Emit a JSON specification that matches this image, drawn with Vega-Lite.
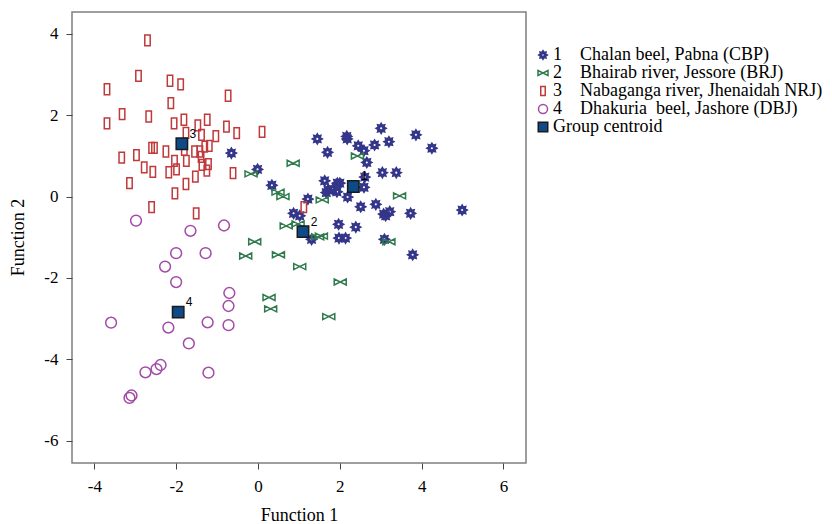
{
  "$schema": "https://vega.github.io/schema/vega-lite/v6.json",
  "autosize": {"type": "none"},
  "padding": {"left": 72, "top": 12, "right": 306, "bottom": 61},
  "width": 454,
  "height": 451,
  "config": {
    "view": {"stroke": "#7f7f7f", "strokeWidth": 1.5},
    "font": "Liberation Serif",
    "axis": {
      "grid": false, "domain": false, "tickColor": "#444", "tickSize": 6, "tickWidth": 1,
      "labelFont": "Liberation Serif", "labelFontSize": 17, "labelColor": "#000",
      "labelExpr": "replace(datum.label, '\u2212', '-')",
      "titleFont": "Liberation Serif", "titleFontSize": 18, "titleFontWeight": "normal", "titleColor": "#000"
    },
    "legend": {"labelFont": "Liberation Serif", "labelFontSize": 18, "labelColor": "#000", "symbolStrokeWidth": 1.5, "labelLimit": 0}
  },
  "data": {"values": [
    {"x":-0.65,"y":1.07,"g":"1"},{"x":-0.01,"y":0.67,"g":"1"},{"x":0.34,"y":0.28,"g":"1"},{"x":1.45,"y":1.42,"g":"1"},
    {"x":2.17,"y":1.48,"g":"1"},{"x":2.18,"y":1.42,"g":"1"},{"x":3.01,"y":1.68,"g":"1"},{"x":3.86,"y":1.52,"g":"1"},
    {"x":4.25,"y":1.19,"g":"1"},{"x":1.70,"y":1.09,"g":"1"},{"x":2.45,"y":1.25,"g":"1"},{"x":2.59,"y":1.13,"g":"1"},
    {"x":2.85,"y":1.27,"g":"1"},{"x":3.20,"y":1.35,"g":"1"},{"x":2.66,"y":0.84,"g":"1"},{"x":3.04,"y":0.59,"g":"1"},
    {"x":3.38,"y":0.59,"g":"1"},{"x":2.61,"y":0.48,"g":"1"},{"x":2.59,"y":0.23,"g":"1"},{"x":1.63,"y":0.39,"g":"1"},
    {"x":1.94,"y":0.33,"g":"1"},{"x":2.00,"y":0.33,"g":"1"},{"x":1.71,"y":0.16,"g":"1"},{"x":1.83,"y":0.18,"g":"1"},
    {"x":1.93,"y":0.12,"g":"1"},{"x":1.67,"y":0.10,"g":"1"},{"x":2.19,"y":-0.01,"g":"1"},{"x":1.22,"y":-0.06,"g":"1"},
    {"x":0.87,"y":-0.41,"g":"1"},{"x":1.02,"y":-0.47,"g":"1"},{"x":2.51,"y":-0.25,"g":"1"},{"x":2.88,"y":-0.19,"g":"1"},
    {"x":3.07,"y":-0.43,"g":"1"},{"x":3.12,"y":-0.47,"g":"1"},{"x":3.22,"y":-0.37,"g":"1"},{"x":3.73,"y":-0.41,"g":"1"},
    {"x":4.99,"y":-0.33,"g":"1"},{"x":1.97,"y":-0.68,"g":"1"},{"x":2.39,"y":-0.75,"g":"1"},{"x":1.31,"y":-1.05,"g":"1"},
    {"x":1.98,"y":-1.02,"g":"1"},{"x":2.14,"y":-1.02,"g":"1"},{"x":3.09,"y":-1.05,"g":"1"},{"x":3.78,"y":-1.43,"g":"1"},
    {"x":0.86,"y":0.82,"g":"2"},{"x":2.43,"y":1.00,"g":"2"},{"x":-0.17,"y":0.56,"g":"2"},{"x":0.49,"y":0.11,"g":"2"},
    {"x":0.61,"y":0.00,"g":"2"},{"x":1.57,"y":-0.08,"g":"2"},{"x":3.46,"y":0.02,"g":"2"},{"x":0.69,"y":-0.72,"g":"2"},
    {"x":0.98,"y":-0.67,"g":"2"},{"x":1.55,"y":-0.97,"g":"2"},{"x":1.46,"y":-0.99,"g":"2"},{"x":3.20,"y":-1.11,"g":"2"},
    {"x":-0.08,"y":-1.11,"g":"2"},{"x":-0.30,"y":-1.46,"g":"2"},{"x":0.50,"y":-1.43,"g":"2"},{"x":1.02,"y":-1.72,"g":"2"},
    {"x":2.01,"y":-2.10,"g":"2"},{"x":0.27,"y":-2.48,"g":"2"},{"x":0.31,"y":-2.76,"g":"2"},{"x":1.73,"y":-2.95,"g":"2"},
    {"x":-2.70,"y":3.84,"g":"3"},{"x":-2.92,"y":2.97,"g":"3"},{"x":-2.15,"y":2.85,"g":"3"},{"x":-1.89,"y":2.76,"g":"3"},
    {"x":-3.69,"y":2.64,"g":"3"},{"x":-0.73,"y":2.48,"g":"3"},{"x":-2.13,"y":2.30,"g":"3"},{"x":-3.32,"y":2.03,"g":"3"},
    {"x":-2.67,"y":1.97,"g":"3"},{"x":-3.69,"y":1.80,"g":"3"},{"x":-2.05,"y":1.80,"g":"3"},{"x":-1.81,"y":1.89,"g":"3"},
    {"x":-1.47,"y":1.75,"g":"3"},{"x":-1.24,"y":1.89,"g":"3"},{"x":-0.77,"y":1.72,"g":"3"},{"x":-0.52,"y":1.56,"g":"3"},
    {"x":0.10,"y":1.59,"g":"3"},{"x":-1.76,"y":1.57,"g":"3"},{"x":-1.38,"y":1.52,"g":"3"},{"x":-1.03,"y":1.49,"g":"3"},
    {"x":-2.60,"y":1.20,"g":"3"},{"x":-2.53,"y":1.20,"g":"3"},{"x":-2.25,"y":1.11,"g":"3"},{"x":-1.80,"y":1.15,"g":"3"},
    {"x":-1.55,"y":1.11,"g":"3"},{"x":-1.42,"y":1.11,"g":"3"},{"x":-1.30,"y":1.23,"g":"3"},{"x":-1.19,"y":1.25,"g":"3"},
    {"x":-1.39,"y":0.98,"g":"3"},{"x":-3.33,"y":0.96,"g":"3"},{"x":-2.97,"y":1.02,"g":"3"},{"x":-2.04,"y":0.88,"g":"3"},
    {"x":-1.75,"y":0.88,"g":"3"},{"x":-2.78,"y":0.72,"g":"3"},{"x":-2.57,"y":0.61,"g":"3"},{"x":-2.18,"y":0.60,"g":"3"},
    {"x":-1.99,"y":0.67,"g":"3"},{"x":-1.37,"y":0.78,"g":"3"},{"x":-1.21,"y":0.80,"g":"3"},{"x":-1.25,"y":0.64,"g":"3"},
    {"x":-0.61,"y":0.58,"g":"3"},{"x":-1.53,"y":0.49,"g":"3"},{"x":-3.14,"y":0.33,"g":"3"},{"x":-1.76,"y":0.31,"g":"3"},
    {"x":-2.03,"y":0.08,"g":"3"},{"x":-2.60,"y":-0.26,"g":"3"},{"x":-1.51,"y":-0.41,"g":"3"},{"x":1.12,"y":-0.26,"g":"3"},
    {"x":-2.98,"y":-0.59,"g":"4"},{"x":-1.65,"y":-0.84,"g":"4"},{"x":-0.83,"y":-0.71,"g":"4"},{"x":-2.00,"y":-1.39,"g":"4"},
    {"x":-1.28,"y":-1.39,"g":"4"},{"x":-2.27,"y":-1.72,"g":"4"},{"x":-2.00,"y":-2.10,"g":"4"},{"x":-0.70,"y":-2.37,"g":"4"},
    {"x":-0.72,"y":-2.69,"g":"4"},{"x":-3.59,"y":-3.10,"g":"4"},{"x":-2.19,"y":-3.22,"g":"4"},{"x":-1.23,"y":-3.09,"g":"4"},
    {"x":-0.72,"y":-3.16,"g":"4"},{"x":-1.69,"y":-3.61,"g":"4"},{"x":-2.75,"y":-4.32,"g":"4"},{"x":-2.48,"y":-4.24,"g":"4"},
    {"x":-2.38,"y":-4.14,"g":"4"},{"x":-1.21,"y":-4.33,"g":"4"},{"x":-3.14,"y":-4.95,"g":"4"},{"x":-3.09,"y":-4.89,"g":"4"},
    {"x":2.33,"y":0.25,"g":"c","lab":"1"},{"x":1.10,"y":-0.86,"g":"c","lab":"2"},
    {"x":-1.86,"y":1.30,"g":"c","lab":"3"},{"x":-1.95,"y":-2.84,"g":"c","lab":"4"}
  ]},
  "layer": [
    {
      "mark": {"type": "point", "size": 144, "strokeWidth": 1.5, "opacity": 1},
      "encoding": {
        "x": {"field": "x", "type": "quantitative", "scale": {"domain": [-4.545, 6.55], "nice": false, "zero": false},
              "axis": {"values": [-4, -2, 0, 2, 4, 6], "title": "Function 1", "labelPadding": 9, "titleY": 52, "titleBaseline": "middle"}},
        "y": {"field": "y", "type": "quantitative", "scale": {"domain": [-6.55, 4.54], "nice": false, "zero": false},
              "axis": {"values": [-6, -4, -2, 0, 2, 4], "title": "Function 2", "labelPadding": 8, "titleX": -54, "titleY": 225, "titleBaseline": "middle", "titleAngle": -90}},
        "stroke": {"field": "g", "type": "nominal",
          "scale": {"domain": ["1", "2", "3", "4", "c"], "range": ["#34368a", "#2f7a4c", "#c0393b", "#a24ca6", "#1a1a1a"]},
          "legend": {"title": null, "orient": "none", "legendX": 462, "legendY": 34, "rowPadding": 0, "labelOffset": 1, "symbolSize": 100, "padding": 0,
            "labelExpr": "datum.label == '1' ? '1\u00a0\u00a0\u00a0\u00a0Chalan beel, Pabna (CBP)' : datum.label == '2' ? '2\u00a0\u00a0\u00a0\u00a0Bhairab river, Jessore (BRJ)' : datum.label == '3' ? '3\u00a0\u00a0\u00a0\u00a0Nabaganga river, Jhenaidah NRJ)' : datum.label == '4' ? '4\u00a0\u00a0\u00a0\u00a0Dhakuria\u00a0\u00a0beel, Jashore (DBJ)' : 'Group centroid'"}},
        "fill": {"field": "g", "type": "nominal",
          "scale": {"domain": ["1", "2", "3", "4", "c"], "range": ["#34368a", "transparent", "transparent", "transparent", "#0d4a87"]},
          "legend": {"title": null, "orient": "none", "legendX": 462, "legendY": 34, "rowPadding": 0, "labelOffset": 1, "symbolSize": 100, "padding": 0,
            "labelExpr": "datum.label == '1' ? '1\u00a0\u00a0\u00a0\u00a0Chalan beel, Pabna (CBP)' : datum.label == '2' ? '2\u00a0\u00a0\u00a0\u00a0Bhairab river, Jessore (BRJ)' : datum.label == '3' ? '3\u00a0\u00a0\u00a0\u00a0Nabaganga river, Jhenaidah NRJ)' : datum.label == '4' ? '4\u00a0\u00a0\u00a0\u00a0Dhakuria\u00a0\u00a0beel, Jashore (DBJ)' : 'Group centroid'"}},
        "shape": {"field": "g", "type": "nominal",
          "scale": {"domain": ["1", "2", "3", "4", "c"], "range": [
            "M0.85,0L0.5,0.207L0.6,0.6L0.207,0.5L0,0.85L-0.207,0.5L-0.6,0.6L-0.5,0.207L-0.85,0L-0.5,-0.207L-0.6,-0.6L-0.207,-0.5L0,-0.85L0.207,-0.5L0.6,-0.6L0.5,-0.207ZM0.3,0A0.3,0.3,0,1,0,-0.3,0A0.3,0.3,0,1,0,0.3,0Z",
            "M-1,-0.5L0,0L-1,0.5ZM1,-0.5L0,0L1,0.5Z",
            "M-0.45,-0.9L0.45,-0.9L0.45,0.9L-0.45,0.9Z",
            "M0.9,0A0.9,0.9,0,1,1,-0.9,0A0.9,0.9,0,1,1,0.9,0Z",
            "M-0.95,-0.95L0.95,-0.95L0.95,0.95L-0.95,0.95Z"]},
          "legend": {"title": null, "orient": "none", "legendX": 462, "legendY": 34, "rowPadding": 0, "labelOffset": 1, "symbolSize": 100, "padding": 0,
            "labelExpr": "datum.label == '1' ? '1\u00a0\u00a0\u00a0\u00a0Chalan beel, Pabna (CBP)' : datum.label == '2' ? '2\u00a0\u00a0\u00a0\u00a0Bhairab river, Jessore (BRJ)' : datum.label == '3' ? '3\u00a0\u00a0\u00a0\u00a0Nabaganga river, Jhenaidah NRJ)' : datum.label == '4' ? '4\u00a0\u00a0\u00a0\u00a0Dhakuria\u00a0\u00a0beel, Jashore (DBJ)' : 'Group centroid'"}}
      }
    },
    {
      "transform": [{"filter": "datum.g == 'c'"}],
      "mark": {"type": "text", "dx": 11, "dy": -10, "font": "Liberation Sans", "fontSize": 12, "color": "#000"},
      "encoding": {
        "x": {"field": "x", "type": "quantitative"},
        "y": {"field": "y", "type": "quantitative"},
        "text": {"field": "lab"}
      }
    }
  ]
}
